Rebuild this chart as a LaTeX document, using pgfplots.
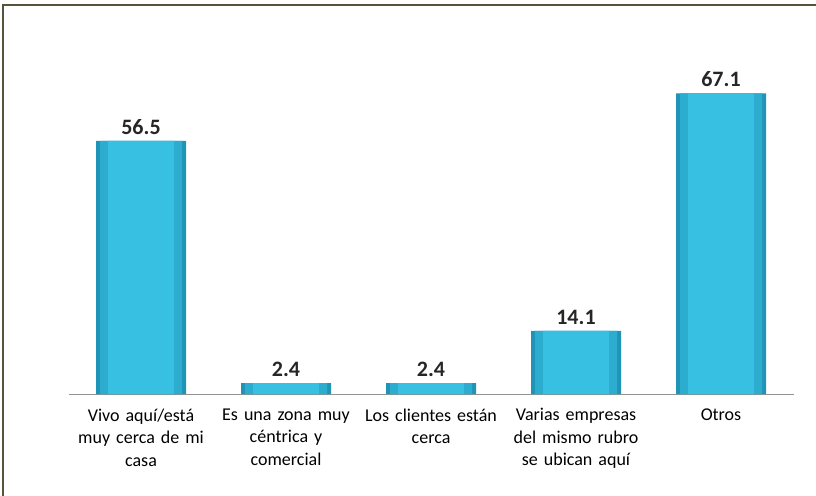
\documentclass[border=0pt]{standalone}
\usepackage{pgfplots}
\pgfplotsset{compat=1.18}
\usepackage{fontspec}
\setmainfont{Carlito}
\definecolor{barA}{RGB}{32,148,182}
\definecolor{barB}{RGB}{44,172,206}
\definecolor{barC}{RGB}{56,192,226}
\definecolor{barT}{RGB}{96,214,238}
\definecolor{frame}{RGB}{88,82,58}
\begin{document}
\begin{tikzpicture}[x=1pt,y=1pt]
\useasboundingbox (-68.5,-101) rectangle (747.5,394);
\draw[frame, line width=2pt] (-65,-102) -- (-65,388.5) -- (748,388.5);
\begin{axis}[
  at={(0,0)}, anchor=south west,
  scale only axis, width=725pt, height=358.4pt,
  xmin=-0.5, xmax=4.5, ymin=0, ymax=80,
  axis x line=bottom, axis y line=none,
  x axis line style={draw=gray!85, line width=1pt, -},
  xtick=data, major tick length=0pt,
  xticklabels={{Vivo aquí/está\\muy cerca de mi\\casa},{Es una zona muy\\céntrica y\\comercial},{Los clientes están\\cerca},{Varias empresas\\del mismo rubro\\se ubican aquí},{Otros}},
  xticklabel style={font=\fontsize{18}{22.5}\selectfont, text width=150pt, align=center, anchor=north, yshift=-11pt},
  ybar,
]
\addplot[draw=none, fill=barA, bar width=90pt, bar shift=0pt] coordinates {
 (0,56.5) (1,2.4) (2,2.4) (3,14.1) (4,67.1)
};
\addplot[draw=none, fill=barB, bar width=82pt, bar shift=0pt] coordinates {
 (0,56.5) (1,2.4) (2,2.4) (3,14.1) (4,67.1)
};
\addplot[draw=none, fill=barC, bar width=66pt, bar shift=0pt,
  nodes near coords, point meta=explicit symbolic,
  every node near coord/.append style={font=\bfseries\fontsize{22}{24}\selectfont, text=black!85, yshift=3pt}] coordinates {
 (0,56.5) [56.5]
 (1,2.4) [2.4]
 (2,2.4) [2.4]
 (3,14.1) [14.1]
 (4,67.1) [67.1]
};
\end{axis}
\end{tikzpicture}
\end{document}
